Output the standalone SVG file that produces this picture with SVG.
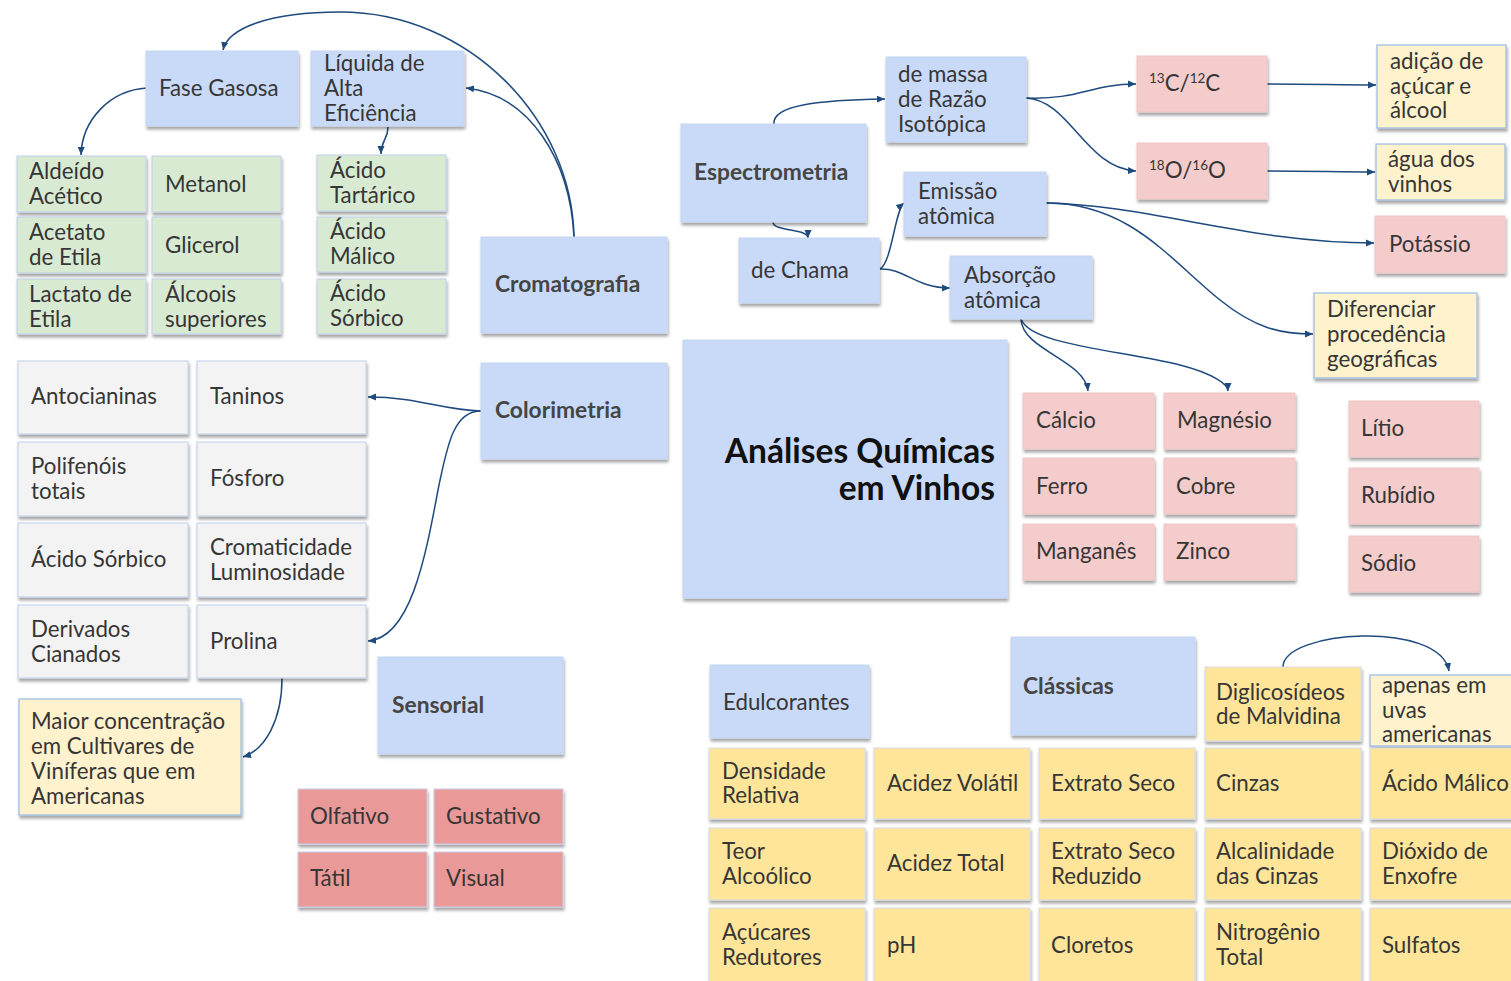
<svg xmlns="http://www.w3.org/2000/svg" width="1511" height="981" viewBox="0 0 1511 981">
<style>
text{font-family:Lato,"Open Sans","Liberation Sans",sans-serif;font-size:22.3px;fill:#363636}
.b{font-weight:bold;font-size:22.8px;fill:#454545}
.title{font-weight:bold;font-size:33.5px;fill:#111;text-anchor:end}
.sup{font-size:13.5px}
rect{stroke:#c2d0ea;stroke-width:1;filter:url(#sh)}
.blue{fill:#c9daf8;stroke:#c5d5f2}
.green{fill:#d9ead3}
.gray{fill:#f3f3f3}
.ly{fill:#fff2cc;stroke:#9fbfe8;stroke-width:1.3}
.yel{fill:#ffe599;stroke:#d4dcea}
.pink{fill:#f4cccc;stroke:#f0c6c6}
.red{fill:#ea9999;stroke:#c8cde6}
#connectors path{fill:none;stroke:#1f4a7e;stroke-width:1.5;marker-end:url(#arr)}
</style>
<defs>
<filter id="sh" x="-10%" y="-10%" width="125%" height="135%">
<feDropShadow dx="1" dy="3" stdDeviation="1.5" flood-color="#000" flood-opacity="0.35"/>
</filter>
<marker id="arr" markerUnits="userSpaceOnUse" markerWidth="9" markerHeight="8" refX="8" refY="4" orient="auto">
<path d="M0,0.5 L8,4 L0,7.5 z" fill="#1f4a7e"/>
</marker>
</defs>
<rect x="0" y="0" width="1511" height="981" fill="#fff" style="filter:none;stroke:none"/>

<g id="connectors">
<path d="M574,237 C572,120 470,12 340,12 C270,12 228,28 223,50"/>
<path d="M574,237 C570,160 530,95 466,88"/>
<path d="M147,88 C110,90 82,120 81,155"/>
<path d="M388,127 C388,140 381,140 381,154"/>
<path d="M481,411 C440,410 420,397 368,397"/>
<path d="M481,411 C455,411 448,440 438,490 C425,560 410,638 368,641"/>
<path d="M282,678 C282,720 265,750 243,757"/>
<path d="M774,124 C772,105 820,100 885,99"/>
<path d="M773,222 C773,232 808,228 808,238"/>
<path d="M880,269 C892,262 895,210 904,203"/>
<path d="M880,269 C905,268 915,288 950,288"/>
<path d="M1026,98 C1080,100 1090,84 1136,84"/>
<path d="M1026,98 C1070,100 1085,168 1136,171"/>
<path d="M1267,84 C1310,84 1340,85 1376,85"/>
<path d="M1267,171 C1310,171 1340,172 1375,172"/>
<path d="M1046,203 C1150,205 1250,243 1374,243"/>
<path d="M1046,203 C1130,203 1170,260 1220,300 C1255,328 1280,334 1313,334"/>
<path d="M1021,319 C1022,350 1085,360 1088,391"/>
<path d="M1021,319 C1030,345 1120,350 1180,365 C1215,374 1228,385 1228,391"/>
<path d="M1283,667 C1283,630 1440,620 1449,671"/>
</g>

<!-- Cromatografia branch -->
<g id="fase-gasosa"><rect class="blue" x="146" y="51" width="152" height="75"/><text x="159" y="96">Fase Gasosa</text></g>
<g id="liquida"><rect class="blue" x="311" y="51" width="153" height="75"/><text x="324" y="71">Líquida de</text><text x="324" y="96">Alta</text><text x="324" y="121">Eficiência</text></g>
<g id="aldeido"><rect class="green" x="17" y="156" width="129" height="56"/><text x="29" y="179">Aldeído</text><text x="29" y="204">Acético</text></g>
<g id="metanol"><rect class="green" x="152" y="156" width="129" height="56"/><text x="165" y="192">Metanol</text></g>
<g id="acetato"><rect class="green" x="17" y="217" width="129" height="56"/><text x="29" y="240">Acetato</text><text x="29" y="265">de Etila</text></g>
<g id="glicerol"><rect class="green" x="152" y="217" width="129" height="56"/><text x="165" y="253">Glicerol</text></g>
<g id="lactato"><rect class="green" x="17" y="279" width="129" height="55"/><text x="29" y="302">Lactato de</text><text x="29" y="327">Etila</text></g>
<g id="alcoois"><rect class="green" x="152" y="279" width="129" height="55"/><text x="165" y="302">Álcoois</text><text x="165" y="327">superiores</text></g>
<g id="tartarico"><rect class="green" x="317" y="155" width="129" height="56"/><text x="330" y="178">Ácido</text><text x="330" y="203">Tartárico</text></g>
<g id="malico1"><rect class="green" x="317" y="217" width="129" height="55"/><text x="330" y="239">Ácido</text><text x="330" y="264">Málico</text></g>
<g id="sorbico1"><rect class="green" x="317" y="279" width="129" height="55"/><text x="330" y="301">Ácido</text><text x="330" y="326">Sórbico</text></g>
<g id="cromatografia"><rect class="blue" x="481" y="237" width="186" height="96"/><text class="b" x="495" y="292">Cromatografia</text></g>

<!-- Colorimetria branch -->
<g id="colorimetria"><rect class="blue" x="481" y="363" width="186" height="96"/><text class="b" x="495" y="418">Colorimetria</text></g>
<g id="antocianinas"><rect class="gray" x="18" y="361" width="170" height="73"/><text x="31" y="404">Antocianinas</text></g>
<g id="taninos"><rect class="gray" x="197" y="361" width="169" height="73"/><text x="210" y="404">Taninos</text></g>
<g id="polifenois"><rect class="gray" x="18" y="442" width="170" height="74"/><text x="31" y="474">Polifenóis</text><text x="31" y="499">totais</text></g>
<g id="fosforo"><rect class="gray" x="197" y="442" width="169" height="74"/><text x="210" y="486">Fósforo</text></g>
<g id="acido-sorbico"><rect class="gray" x="18" y="523" width="170" height="74"/><text x="31" y="567">Ácido Sórbico</text></g>
<g id="cromaticidade"><rect class="gray" x="197" y="523" width="169" height="74"/><text x="210" y="555">Cromaticidade</text><text x="210" y="580">Luminosidade</text></g>
<g id="derivados"><rect class="gray" x="18" y="605" width="170" height="73"/><text x="31" y="637">Derivados</text><text x="31" y="662">Cianados</text></g>
<g id="prolina"><rect class="gray" x="197" y="605" width="169" height="73"/><text x="210" y="649">Prolina</text></g>
<g id="maior"><rect class="ly" x="19" y="699" width="222" height="116"/><text x="31" y="729">Maior concentração</text><text x="31" y="754">em Cultivares de</text><text x="31" y="779">Viníferas que em</text><text x="31" y="804">Americanas</text></g>

<!-- Sensorial -->
<g id="sensorial"><rect class="blue" x="378" y="657" width="185" height="97"/><text class="b" x="392" y="713">Sensorial</text></g>
<g id="olfativo"><rect class="red" x="298" y="789" width="129" height="55"/><text x="310" y="824">Olfativo</text></g>
<g id="gustativo"><rect class="red" x="434" y="789" width="129" height="55"/><text x="446" y="824">Gustativo</text></g>
<g id="tatil"><rect class="red" x="298" y="852" width="129" height="55"/><text x="310" y="886">Tátil</text></g>
<g id="visual"><rect class="red" x="434" y="852" width="129" height="55"/><text x="446" y="886">Visual</text></g>

<!-- Espectrometria branch -->
<g id="espectrometria"><rect class="blue" x="681" y="124" width="185" height="98"/><text class="b" x="694" y="180">Espectrometria</text></g>
<g id="de-massa"><rect class="blue" x="886" y="57" width="140" height="85"/><text x="898" y="82">de massa</text><text x="898" y="107">de Razão</text><text x="898" y="132">Isotópica</text></g>
<g id="de-chama"><rect class="blue" x="739" y="238" width="140" height="65"/><text x="751" y="278">de Chama</text></g>
<g id="emissao"><rect class="blue" x="904" y="172" width="142" height="64"/><text x="918" y="199">Emissão</text><text x="918" y="224">atômica</text></g>
<g id="absorcao"><rect class="blue" x="950" y="256" width="142" height="63"/><text x="964" y="283">Absorção</text><text x="964" y="308">atômica</text></g>
<g id="c13"><rect class="pink" x="1137" y="56" width="130" height="56"/><text x="1149" y="91"><tspan class="sup" dy="-8">13</tspan><tspan dy="8">C/</tspan><tspan class="sup" dy="-8">12</tspan><tspan dy="8">C</tspan></text></g>
<g id="o18"><rect class="pink" x="1137" y="143" width="130" height="56"/><text x="1149" y="178"><tspan class="sup" dy="-8">18</tspan><tspan dy="8">O/</tspan><tspan class="sup" dy="-8">16</tspan><tspan dy="8">O</tspan></text></g>
<g id="adicao"><rect class="ly" x="1377" y="45" width="129" height="83"/><text x="1390" y="69">adição de</text><text x="1390" y="94">açúcar e</text><text x="1390" y="118">álcool</text></g>
<g id="agua"><rect class="ly" x="1376" y="144" width="129" height="56"/><text x="1388" y="167">água dos</text><text x="1388" y="192">vinhos</text></g>
<g id="potassio"><rect class="pink" x="1375" y="216" width="130" height="57"/><text x="1389" y="252">Potássio</text></g>
<g id="diferenciar"><rect class="ly" x="1314" y="293" width="163" height="85"/><text x="1327" y="317">Diferenciar</text><text x="1327" y="342">procedência</text><text x="1327" y="367">geográficas</text></g>

<!-- Main -->
<g id="main"><rect class="blue" x="683" y="340" width="324" height="258"/><text class="title" x="995" y="463">Análises Químicas</text><text class="title" x="995" y="500">em Vinhos</text></g>

<!-- Metals -->
<g id="calcio"><rect class="pink" x="1023" y="393" width="131" height="56"/><text x="1036" y="428">Cálcio</text></g>
<g id="magnesio"><rect class="pink" x="1164" y="393" width="131" height="56"/><text x="1177" y="428">Magnésio</text></g>
<g id="ferro"><rect class="pink" x="1023" y="458" width="131" height="56"/><text x="1036" y="494">Ferro</text></g>
<g id="cobre"><rect class="pink" x="1164" y="458" width="131" height="56"/><text x="1176" y="494">Cobre</text></g>
<g id="manganes"><rect class="pink" x="1023" y="524" width="131" height="56"/><text x="1036" y="559">Manganês</text></g>
<g id="zinco"><rect class="pink" x="1164" y="524" width="131" height="56"/><text x="1176" y="559">Zinco</text></g>
<g id="litio"><rect class="pink" x="1349" y="401" width="130" height="56"/><text x="1361" y="436">Lítio</text></g>
<g id="rubidio"><rect class="pink" x="1349" y="468" width="130" height="56"/><text x="1361" y="503">Rubídio</text></g>
<g id="sodio"><rect class="pink" x="1349" y="536" width="130" height="56"/><text x="1361" y="571">Sódio</text></g>

<!-- Clássicas -->
<g id="edulcorantes"><rect class="blue" x="710" y="665" width="159" height="73"/><text x="723" y="710">Edulcorantes</text></g>
<g id="classicas"><rect class="blue" x="1011" y="637" width="184" height="98"/><text class="b" x="1023" y="694">Clássicas</text></g>
<g id="diglicosideos"><rect class="yel" x="1205" y="667" width="156" height="74"/><text x="1216" y="700">Diglicosídeos</text><text x="1216" y="724">de Malvidina</text></g>
<g id="apenas"><rect class="ly" x="1370" y="675" width="150" height="71"/><text x="1382" y="693">apenas em</text><text x="1382" y="718">uvas</text><text x="1382" y="742">americanas</text></g>

<g id="densidade"><rect class="yel" x="709" y="748" width="156" height="71"/><text x="722" y="779">Densidade</text><text x="722" y="803">Relativa</text></g>
<g id="acidez-volatil"><rect class="yel" x="874" y="748" width="156" height="71"/><text x="887" y="791">Acidez Volátil</text></g>
<g id="extrato-seco"><rect class="yel" x="1039" y="748" width="156" height="71"/><text x="1051" y="791">Extrato Seco</text></g>
<g id="cinzas"><rect class="yel" x="1205" y="748" width="156" height="71"/><text x="1216" y="791">Cinzas</text></g>
<g id="acido-malico"><rect class="yel" x="1370" y="748" width="150" height="71"/><text x="1382" y="791">Ácido Málico</text></g>

<g id="teor"><rect class="yel" x="709" y="828" width="156" height="72"/><text x="722" y="859">Teor</text><text x="722" y="884">Alcoólico</text></g>
<g id="acidez-total"><rect class="yel" x="874" y="828" width="156" height="72"/><text x="887" y="871">Acidez Total</text></g>
<g id="extrato-reduzido"><rect class="yel" x="1039" y="828" width="156" height="72"/><text x="1051" y="859">Extrato Seco</text><text x="1051" y="884">Reduzido</text></g>
<g id="alcalinidade"><rect class="yel" x="1205" y="828" width="156" height="72"/><text x="1216" y="859">Alcalinidade</text><text x="1216" y="884">das Cinzas</text></g>
<g id="dioxido"><rect class="yel" x="1370" y="828" width="150" height="72"/><text x="1382" y="859">Dióxido de</text><text x="1382" y="884">Enxofre</text></g>

<g id="acucares"><rect class="yel" x="709" y="908" width="156" height="80"/><text x="722" y="940">Açúcares</text><text x="722" y="965">Redutores</text></g>
<g id="ph"><rect class="yel" x="874" y="908" width="156" height="80"/><text x="887" y="953">pH</text></g>
<g id="cloretos"><rect class="yel" x="1039" y="908" width="156" height="80"/><text x="1051" y="953">Cloretos</text></g>
<g id="nitrogenio"><rect class="yel" x="1205" y="908" width="156" height="80"/><text x="1216" y="940">Nitrogênio</text><text x="1216" y="965">Total</text></g>
<g id="sulfatos"><rect class="yel" x="1370" y="908" width="150" height="80"/><text x="1382" y="953">Sulfatos</text></g>
</svg>
